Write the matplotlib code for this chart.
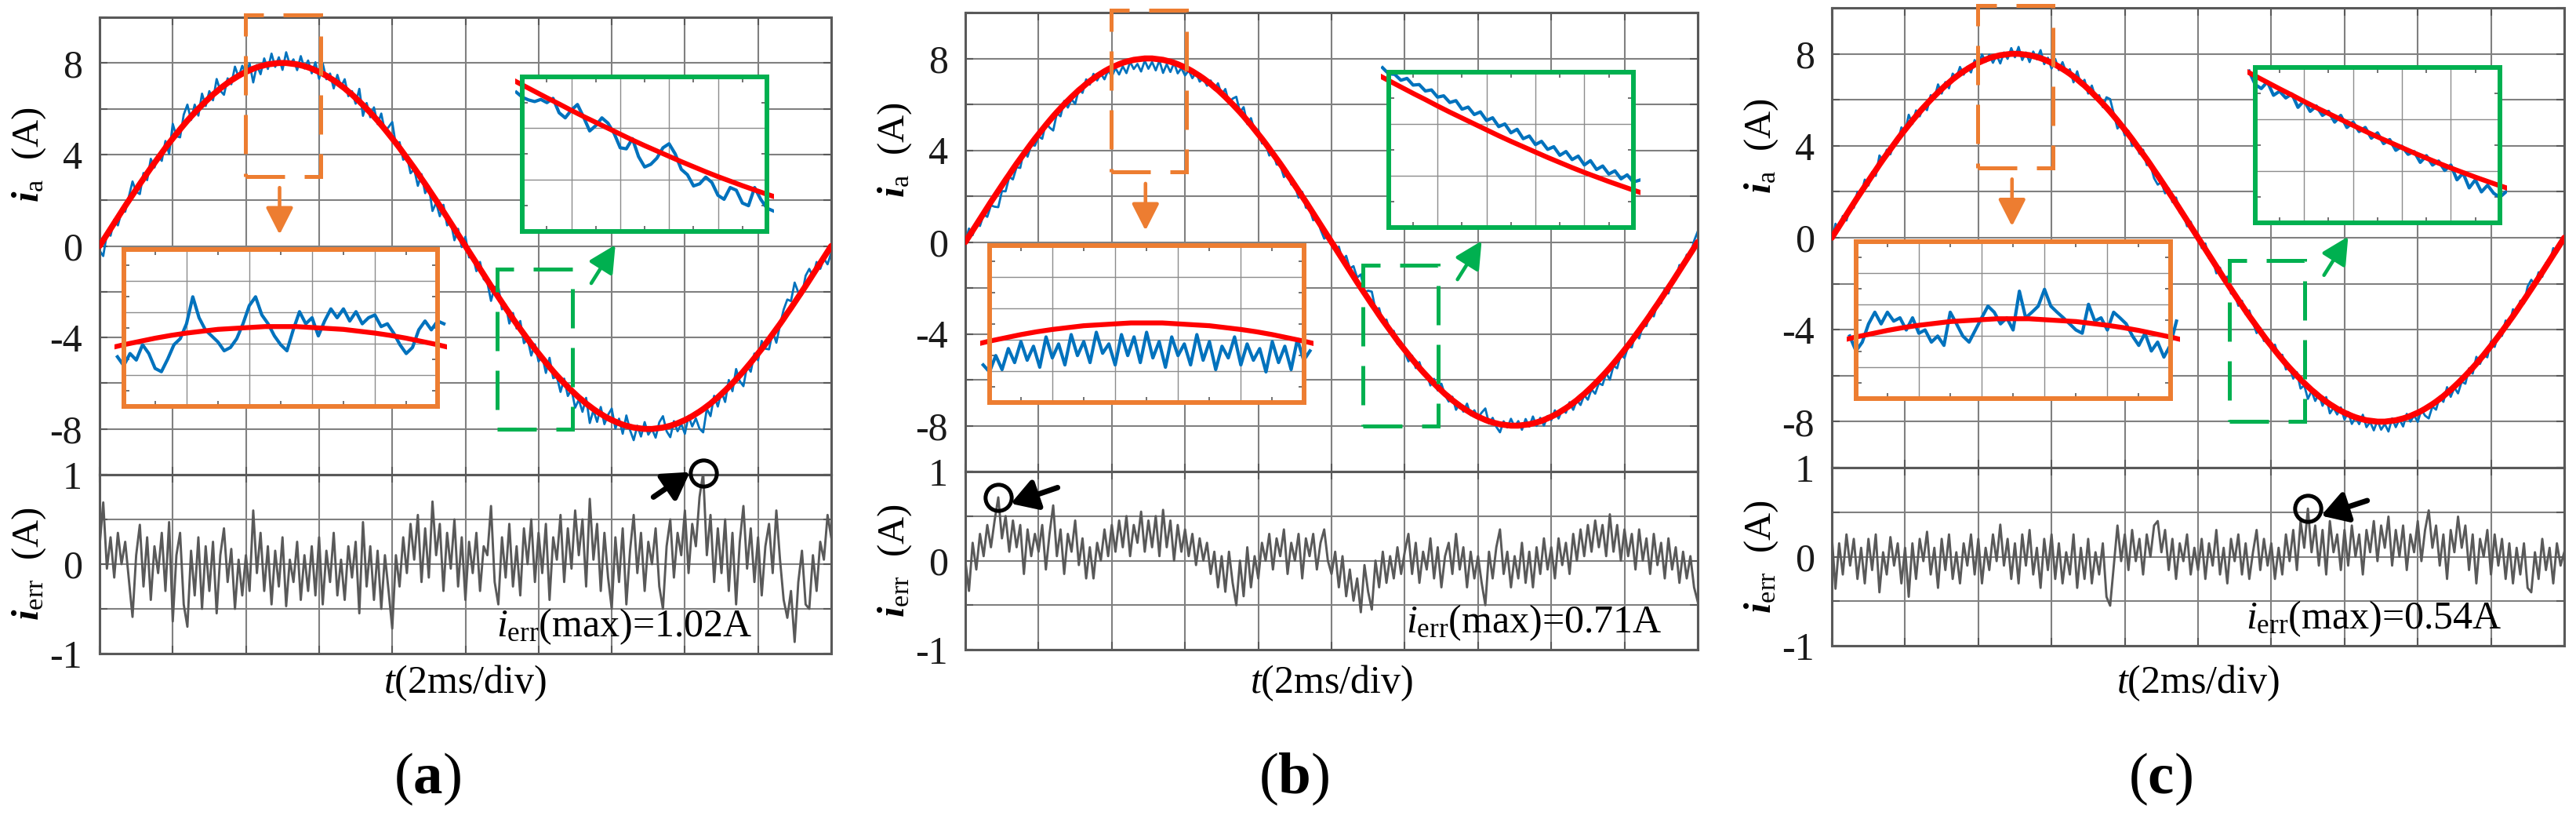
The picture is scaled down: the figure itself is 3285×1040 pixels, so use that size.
import numpy as np
import matplotlib
matplotlib.use('Agg')
import matplotlib.pyplot as plt
from matplotlib.patches import Rectangle
from matplotlib.transforms import Bbox, TransformedBbox, blended_transform_factory

plt.rcParams['font.family'] = ['Liberation Serif', 'DejaVu Serif']
plt.rcParams['mathtext.fontset'] = 'custom'
plt.rcParams['mathtext.rm'] = 'Liberation Serif'
plt.rcParams['mathtext.it'] = 'Liberation Serif:italic'
plt.rcParams['mathtext.bf'] = 'Liberation Serif:bold'
try:
    plt.rcParams['mathtext.bfit'] = 'Liberation Serif:italic:bold'
except KeyError:
    pass
plt.rcParams['axes.unicode_minus'] = False

# time axis in divisions (2 ms/div), 0.05 div per sample
t = np.linspace(0, 10, 201)

# reference current (red), A
ref_current = [
    0.00, 0.25, 0.50, 0.75, 1.00, 1.25, 1.50, 1.75, 1.99, 2.23,
    2.47, 2.71, 2.94, 3.18, 3.41, 3.63, 3.85, 4.07, 4.29, 4.50,
    4.70, 4.90, 5.10, 5.29, 5.48, 5.66, 5.83, 6.00, 6.16, 6.32,
    6.47, 6.62, 6.75, 6.89, 7.01, 7.13, 7.24, 7.34, 7.44, 7.53,
    7.61, 7.68, 7.75, 7.81, 7.86, 7.90, 7.94, 7.96, 7.98, 8.00,
    8.00,
    8.00, 7.98, 7.96, 7.94, 7.90, 7.86, 7.81, 7.75, 7.68, 7.61,
    7.53, 7.44, 7.34, 7.24, 7.13, 7.01, 6.89, 6.75, 6.62, 6.47,
    6.32, 6.16, 6.00, 5.83, 5.66, 5.48, 5.29, 5.10, 4.90, 4.70,
    4.50, 4.29, 4.07, 3.85, 3.63, 3.41, 3.18, 2.94, 2.71, 2.47,
    2.23, 1.99, 1.75, 1.50, 1.25, 1.00, 0.75, 0.50, 0.25, 0.00,
    -0.25, -0.50, -0.75, -1.00, -1.25, -1.50, -1.75, -1.99, -2.23, -2.47,
    -2.71, -2.94, -3.18, -3.41, -3.63, -3.85, -4.07, -4.29, -4.50, -4.70,
    -4.90, -5.10, -5.29, -5.48, -5.66, -5.83, -6.00, -6.16, -6.32, -6.47,
    -6.62, -6.75, -6.89, -7.01, -7.13, -7.24, -7.34, -7.44, -7.53, -7.61,
    -7.68, -7.75, -7.81, -7.86, -7.90, -7.94, -7.96, -7.98, -8.00, -8.00,
    -8.00, -7.98, -7.96, -7.94, -7.90, -7.86, -7.81, -7.75, -7.68, -7.61,
    -7.53, -7.44, -7.34, -7.24, -7.13, -7.01, -6.89, -6.75, -6.62, -6.47,
    -6.32, -6.16, -6.00, -5.83, -5.66, -5.48, -5.29, -5.10, -4.90, -4.70,
    -4.50, -4.29, -4.07, -3.85, -3.63, -3.41, -3.18, -2.94, -2.71, -2.47,
    -2.23, -1.99, -1.75, -1.50, -1.25, -1.00, -0.75, -0.50, -0.25, 0.00]

# tracking error i_err (A), one value every 0.05 div
err_a = [
    0.20, 0.69, -0.05, 0.30, -0.15, 0.35, 0.00, 0.25, -0.17, -0.59, 0.10, 0.44, -0.25, 0.30, -0.40, 0.20, -0.10, 0.35, -0.30, 0.47,
    -0.64, 0.10, 0.35, -0.45, -0.70, 0.15, -0.35, 0.30, -0.50, 0.20, -0.30, 0.25, -0.55, 0.10, 0.40, -0.20, 0.17, -0.50, 0.05, -0.35,
    0.10, -0.30, 0.60, -0.10, 0.35, -0.30, 0.20, -0.45, 0.15, -0.25, 0.30, -0.47, 0.05, -0.20, 0.25, -0.40, 0.10, -0.30, 0.20, -0.35,
    0.30, -0.45, 0.15, -0.20, 0.35, -0.35, 0.05, -0.40, 0.20, -0.15, 0.25, -0.55, 0.47, -0.25, 0.20, -0.40, 0.15, -0.50, 0.10, -0.30,
    -0.72, 0.10, -0.25, 0.30, -0.10, 0.45, 0.05, 0.55, -0.20, 0.40, -0.15, 0.70, 0.10, 0.45, -0.30, 0.35, -0.05, 0.50, -0.25, 0.30,
    -0.40, 0.25, -0.10, 0.35, -0.30, 0.20, 0.10, 0.65, -0.20, -0.45, 0.30, -0.15, 0.45, -0.25, 0.20, -0.35, 0.40, 0.00, 0.50, -0.20,
    0.35, -0.10, 0.45, -0.40, 0.30, 0.05, 0.55, -0.20, 0.40, -0.05, 0.60, 0.10, 0.50, -0.25, 0.73, 0.05, 0.45, -0.30, 0.35, -0.15,
    -0.50, 0.30, -0.20, 0.40, -0.45, 0.15, 0.55, -0.10, 0.35, -0.30, 0.25, 0.00, 0.40, -0.25, -0.50, 0.20, 0.50, -0.15, 0.35, 0.10,
    0.60, -0.10, 0.45, 0.20, 0.75, 1.02, 0.10, 0.55, -0.20, 0.40, -0.10, 0.50, -0.30, 0.35, -0.45, 0.25, 0.65, -0.05, 0.40, -0.20,
    0.30, -0.35, 0.20, 0.45, -0.10, 0.60, 0.05, -0.40, -0.60, -0.30, -0.87, -0.20, 0.15, -0.45, -0.50, 0.10, -0.30, 0.25, 0.05, 0.55,
    0.30]
err_b = [
    0.00, -0.34, 0.20, -0.10, 0.30, 0.05, 0.40, 0.15, 0.45, 0.71, 0.25, 0.50, 0.10, 0.45, 0.15, 0.40, -0.15, 0.35, 0.05, 0.30,
    0.10, 0.40, -0.10, 0.30, 0.62, 0.05, 0.35, -0.15, 0.30, 0.10, 0.45, -0.05, 0.25, -0.20, 0.15, -0.20, 0.20, 0.00, 0.35, 0.05,
    0.40, 0.10, 0.45, 0.15, 0.50, 0.05, 0.40, 0.20, 0.55, 0.10, 0.45, 0.15, 0.50, 0.05, 0.57, 0.15, 0.45, 0.00, 0.40, 0.10,
    0.35, 0.05, 0.30, -0.05, 0.25, 0.00, 0.20, -0.15, 0.10, -0.30, 0.05, -0.35, 0.10, -0.25, -0.50, 0.00, -0.40, 0.15, -0.30, 0.05,
    -0.20, 0.20, 0.00, 0.30, -0.10, 0.25, 0.05, 0.35, -0.15, 0.20, 0.00, 0.30, -0.20, 0.25, 0.05, 0.30, -0.10, 0.20, 0.35, 0.00,
    -0.15, 0.10, -0.30, 0.05, -0.40, -0.10, -0.45, -0.20, -0.58, -0.05, -0.35, -0.55, 0.00, -0.30, 0.10, -0.25, 0.05, -0.20, 0.15, -0.15,
    0.10, 0.30, -0.15, 0.20, -0.25, 0.10, -0.10, 0.25, -0.20, 0.15, -0.30, 0.05, 0.20, -0.15, 0.30, -0.10, 0.15, -0.30, 0.10, -0.20,
    0.05, -0.25, -0.50, 0.10, -0.20, 0.15, 0.35, -0.15, 0.10, -0.30, 0.05, -0.20, 0.20, -0.25, 0.10, -0.30, 0.15, -0.15, 0.25, -0.10,
    0.15, -0.20, 0.25, -0.05, 0.20, -0.15, 0.30, 0.00, 0.35, 0.05, 0.40, 0.10, 0.45, 0.15, 0.40, 0.05, 0.52, 0.10, 0.40, 0.00,
    0.35, 0.05, 0.30, -0.10, 0.35, 0.00, 0.25, -0.15, 0.30, -0.05, 0.20, -0.20, 0.25, -0.10, 0.15, -0.25, 0.10, -0.20, 0.05, -0.30,
    -0.46]
err_c = [
    0.23, -0.36, 0.15, -0.20, 0.25, -0.10, 0.20, -0.25, 0.10, -0.30, 0.20, -0.15, 0.25, -0.40, 0.05, -0.20, 0.22, -0.10, 0.15, -0.30,
    0.10, -0.45, 0.15, -0.25, 0.20, -0.05, 0.28, -0.20, 0.10, -0.35, 0.20, -0.15, 0.25, -0.25, 0.05, -0.30, 0.15, -0.10, 0.25, -0.20,
    0.20, -0.30, 0.10, -0.15, 0.25, -0.05, 0.36, -0.10, 0.20, -0.25, 0.15, -0.30, 0.25, -0.10, 0.30, -0.20, 0.10, -0.35, 0.20, -0.15,
    0.25, -0.25, 0.15, -0.30, 0.05, -0.20, 0.25, -0.35, 0.10, -0.25, 0.20, -0.30, 0.05, -0.20, 0.15, -0.45, -0.55, -0.10, 0.35, -0.05,
    0.25, -0.15, 0.30, -0.05, 0.20, -0.20, 0.25, 0.00, 0.35, 0.40, 0.05, 0.30, -0.15, 0.20, -0.25, 0.15, -0.05, 0.25, -0.20, 0.10,
    -0.15, 0.20, -0.25, 0.15, -0.10, 0.30, -0.20, 0.10, -0.30, 0.20, -0.05, 0.25, -0.20, 0.15, -0.25, 0.05, 0.30, -0.15, 0.20, -0.10,
    0.15, -0.25, 0.10, -0.20, 0.25, -0.05, 0.30, -0.15, 0.40, 0.10, 0.54, 0.05, 0.35, -0.10, 0.30, -0.20, 0.40, 0.05, 0.25, -0.15,
    0.30, -0.10, 0.35, 0.00, 0.25, -0.20, 0.30, 0.05, 0.40, -0.05, 0.35, 0.10, 0.45, -0.10, 0.30, 0.00, 0.35, -0.15, 0.25, 0.05,
    0.40, -0.05, 0.30, 0.52, 0.10, 0.35, -0.10, 0.25, -0.25, 0.30, 0.05, 0.45, 0.10, 0.35, -0.15, 0.25, -0.30, 0.20, 0.00, 0.30,
    -0.20, 0.25, -0.10, 0.20, -0.25, 0.15, -0.30, 0.10, -0.20, 0.15, -0.35, -0.40, 0.05, -0.25, 0.20, -0.15, 0.10, -0.30, 0.15, -0.10,
    0.05]
err_max = [1.02, 0.71, 0.54]

# zoomed measured current around the peak (orange inset), 1.98..3.02 div
peak_zoom_a = [7.35, 7.16, 7.42, 7.28, 7.61, 7.42, 7.10, 7.03, 7.30, 7.61, 7.74, 8.06, 8.64, 8.19,
               7.93, 7.80, 7.67, 7.48, 7.55, 7.74, 8.06, 8.45, 8.64, 8.25, 8.06, 7.80, 7.61, 7.48,
               7.93, 8.32, 8.06, 8.19, 7.80, 8.12, 8.38, 8.19, 8.38, 8.12, 8.32, 8.06, 8.19, 8.25,
               8.00, 8.06, 7.86, 7.61, 7.42, 7.55, 7.93, 8.12, 7.93, 8.12, 8.06]
peak_zoom_b = [7.10, 6.95, 7.30, 7.00, 7.45, 7.15, 7.60, 7.20, 7.50, 7.05, 7.70, 7.25, 7.55, 7.10,
               7.75, 7.30, 7.60, 7.15, 7.80, 7.35, 7.55, 7.10, 7.75, 7.30, 7.70, 7.15, 7.80, 7.25,
               7.60, 7.05, 7.70, 7.30, 7.55, 7.10, 7.75, 7.20, 7.60, 7.00, 7.50, 7.25, 7.70, 7.10,
               7.55, 7.20, 7.45, 6.95, 7.60, 7.15, 7.50, 7.00, 7.65, 7.20, 7.40]
peak_zoom_c = [7.63, 7.31, 7.50, 7.89, 8.14, 7.89, 8.14, 7.95, 8.02, 7.76, 8.02, 7.69, 7.76, 7.50,
               7.63, 7.43, 8.14, 7.89, 7.63, 7.50, 7.76, 8.02, 8.27, 8.14, 7.89, 8.02, 7.76, 8.59,
               8.02, 8.14, 8.27, 8.63, 8.27, 8.14, 8.02, 7.89, 7.76, 7.69, 8.31, 7.95, 8.02, 7.76,
               8.14, 8.02, 7.89, 7.63, 7.43, 7.69, 7.31, 7.50, 7.18, 7.43, 7.95]

# zoomed measured current on the falling edge (green inset), 5.425..6.475 div
fall_zoom_a = [-2.50, -2.69, -2.79, -2.85, -2.77, -2.89, -2.73, -3.27, -3.46, -3.17, -2.96,
               -3.43, -3.95, -3.75, -3.46, -3.66, -4.04, -4.58, -4.62, -4.24, -4.91, -5.30,
               -5.20, -4.97, -4.58, -4.43, -4.81, -5.39, -5.59, -6.01, -5.93, -5.68, -5.88,
               -6.36, -6.51, -6.07, -6.17, -6.65, -6.75, -6.07, -6.51, -6.84, -6.94]
fall_zoom_b = [-1.75, -1.98, -2.00, -2.22, -2.15, -2.40, -2.38, -2.62, -2.58, -2.85, -2.80,
               -3.05, -2.98, -3.30, -3.22, -3.50, -3.40, -3.72, -3.62, -3.95, -3.85, -4.18,
               -4.05, -4.40, -4.30, -4.62, -4.50, -4.80, -4.70, -5.02, -4.88, -5.18, -5.05,
               -5.38, -5.22, -5.55, -5.42, -5.72, -5.60, -5.90, -5.75, -6.02, -5.95]
fall_zoom_c = [-2.05, -2.55, -2.70, -2.45, -2.95, -2.80, -3.05, -2.90, -3.40, -3.15, -3.55,
               -3.35, -3.70, -3.55, -3.95, -3.70, -4.15, -3.95, -4.30, -4.15, -4.55, -4.35,
               -4.75, -4.60, -5.00, -4.85, -5.15, -5.05, -5.45, -5.20, -5.55, -5.40, -5.75,
               -5.55, -6.10, -5.85, -6.40, -6.10, -6.55, -6.30, -6.60, -6.75, -6.55]

errs = [err_a, err_b, err_c]
peak_zooms = [peak_zoom_a, peak_zoom_b, peak_zoom_c]
fall_zooms = [fall_zoom_a, fall_zoom_b, fall_zoom_c]
letters = ['a', 'b', 'c']

# layout (pixels): x left, x right, y top, y split, y bottom
W, H = 3285, 1040
boxes = [(127, 1060, 22, 605, 833), (1231, 2165, 16, 601, 828), (2336, 3270, 10, 596, 823)]
text_right = [8.93, 9.52, 9.15]
err_arrows = [((7.57, 0.75), (8.07, 1.03)), ((1.26, 0.82), (0.62, 0.64)), ((7.31, 0.63), (6.68, 0.46))]

ORANGE = '#ED7D31'
GREEN = '#00B050'
BLUE = '#0072BD'
DARK = '#595959'
GRID = '#808080'

ref = np.array(ref_current)


def style_axes(ax, yt, ylabels):
    ax.set_xlim(0, 10)
    ax.set_xticks(range(11))
    ax.set_yticks(yt)
    ax.set_yticklabels(ylabels)
    ax.tick_params(direction='in', length=7, width=1.5, color=DARK, labelsize=36, pad=16,
                   left=True, right=True, top=True, bottom=True, labelbottom=False,
                   labelcolor='#1a1a1a')
    ax.grid(True, color=GRID, lw=1.5)
    ax.set_axisbelow(True)
    for s in ax.spines.values():
        s.set_color(DARK)
        s.set_linewidth(2.2)


def add_inset(ax, bounds, xlim, ylim, ncol, nrow, color, xs, zoom, sl):
    ins = ax.inset_axes(bounds, transform=ax.transData)
    ins.set_xlim(xlim)
    ins.set_ylim(ylim)
    xg = np.linspace(xlim[0], xlim[1], ncol + 1)
    yg = np.linspace(ylim[0], ylim[1], nrow + 1)
    ins.set_xticks(xg)
    ins.set_yticks(yg)
    ins.set_xticks((xg[:-1] + xg[1:]) / 2, minor=True)
    ins.set_yticks((yg[:-1] + yg[1:]) / 2, minor=True)
    ins.tick_params(which='both', direction='in', labelleft=False, labelbottom=False,
                    top=True, right=True)
    ins.tick_params(which='major', length=0)
    ins.tick_params(which='minor', length=5, width=1.2, color=DARK)
    ins.grid(True, which='major', color='#8c8c8c', lw=1.0)
    for s in ins.spines.values():
        s.set_color(color)
        s.set_linewidth(4.3)
    clip = TransformedBbox(Bbox([[-0.03, -0.3], [1.03, 1.3]]), ins.transAxes)
    l1, = ins.plot(xs, zoom, color=BLUE, lw=3.0)
    l2, = ins.plot(t[sl], ref[sl], color='red', lw=4.5, solid_capstyle='round')
    for ln in (l1, l2):
        ln.set_clip_path(None)
        ln.set_clip_box(clip)


fig = plt.figure(figsize=(W / 100, H / 100), dpi=100)
fig.patch.set_facecolor('white')

for k in range(3):
    x0, x1, yt, ym, yb = boxes[k]
    err = np.array(errs[k])
    ia = ref - err

    ax = fig.add_axes([x0 / W, 1 - ym / H, (x1 - x0) / W, (ym - yt) / H])
    ae = fig.add_axes([x0 / W, 1 - yb / H, (x1 - x0) / W, (yb - ym) / H])

    yv = np.arange(-10, 11, 2)
    style_axes(ax, yv, [str(v) if v % 4 == 0 and abs(v) < 10 else '' for v in yv])
    ax.set_ylim(-10, 10)
    style_axes(ae, [-1, -0.5, 0, 0.5, 1], ['-1', '', '0', '', '1'])
    ae.set_ylim(-1, 1)

    ax.plot(t, ia, color=BLUE, lw=2.0, zorder=2)
    ax.plot(t, ref, color='red', lw=5.5, zorder=3, solid_capstyle='round')
    ae.plot(t, err, color=DARK, lw=2.1, zorder=2)

    # dashed zoom windows and arrows
    ax.add_patch(Rectangle((1.99, 3.05), 1.03, 7.05, fill=False, ec=ORANGE, lw=3.6,
                           ls=(0, (10, 5)), clip_on=False, zorder=4))
    ax.add_patch(Rectangle((5.43, -8.0), 1.03, 7.0, fill=False, ec=GREEN, lw=3.6,
                           ls=(0, (10, 5)), clip_on=False, zorder=4))
    ax.annotate('', xy=(2.46, 0.5), xytext=(2.46, 2.55), zorder=6, annotation_clip=False,
                arrowprops=dict(arrowstyle='-|>,head_length=0.55,head_width=0.28', color=ORANGE,
                                lw=3.3, mutation_scale=38, shrinkA=0, shrinkB=0))
    ax.annotate('', xy=(7.05, 0.05), xytext=(6.72, -1.63), zorder=6, annotation_clip=False,
                arrowprops=dict(arrowstyle='-|>,head_length=0.55,head_width=0.28', color=GREEN,
                                lw=3.3, mutation_scale=38, shrinkA=0, shrinkB=0))

    add_inset(ax, [0.33, -7.0, 4.29, 6.83], (2.0, 3.0), (6.29, 9.65), 5, 5, ORANGE,
              np.linspace(1.98, 3.02, len(peak_zooms[k])), peak_zooms[k], slice(39, 62))
    add_inset(ax, [5.78, 0.64, 3.34, 6.76], (5.45, 6.45), (-7.71, -1.92), 5, 3, GREEN,
              np.linspace(5.425, 6.475, len(fall_zooms[k])), fall_zooms[k], slice(108, 131))

    # max error marker
    i = int(np.argmax(err))
    ae.plot(t[i], err[i], 'o', ms=24, mfc='none', mec='black', mew=3.6, clip_on=False, zorder=6)
    tail, tip = err_arrows[k]
    ae.annotate('', xy=tip, xytext=tail, zorder=6, annotation_clip=False,
                arrowprops=dict(arrowstyle='-|>,head_length=0.5,head_width=0.3', color='black',
                                lw=5, mutation_scale=40, shrinkA=0, shrinkB=0))
    ae.text(text_right[k], -0.81, r'$\mathit{i}_{\mathrm{err}}$(max)=%.2fA' % err_max[k],
            ha='right', va='baseline', fontsize=36, zorder=6)

    # axis labels
    tr = blended_transform_factory(ax.transAxes, ax.transData)
    ax.text(-90 / (x1 - x0), 4, r'$\mathbfit{i}_{\mathrm{a}}$  (A)', transform=tr,
            rotation=90, ha='center', va='center', fontsize=35)
    tr = blended_transform_factory(ae.transAxes, ae.transData)
    ae.text(-90 / (x1 - x0), 0, r'$\mathbfit{i}_{\mathrm{err}}$  (A)', transform=tr,
            rotation=90, ha='center', va='center', fontsize=35)

    cx = (x0 + x1) / 2
    fig.text(cx / W, 1 - 871 / H, r'$\mathit{t}$(2ms/div)', ha='center', va='center', fontsize=36)
    fig.text((cx - 48) / W, 1 - 993 / H, r'($\mathbf{%s}$)' % letters[k],
             ha='center', va='center', fontsize=54)

fig.savefig('out.png', dpi=100)
